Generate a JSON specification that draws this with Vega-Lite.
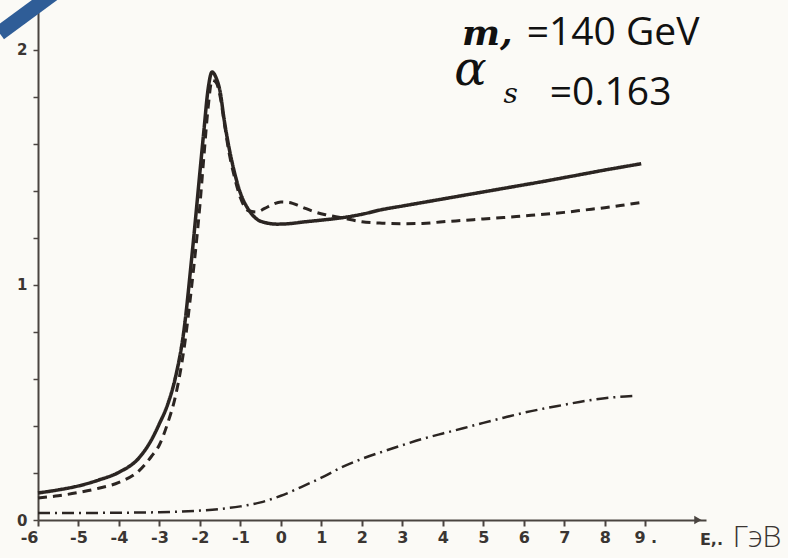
{
  "$schema": "https://vega.github.io/schema/vega-lite/v6.json",
  "autosize": "none",
  "width": 668,
  "height": 508,
  "padding": {"left": 38, "top": 12, "right": 82, "bottom": 38},
  "background": "#fbfaf6",
  "config": {"view": {"stroke": null}},
  "datasets": {
    "curves": [
      {"E": -6.0, "v": 0.115, "series": "solid"},
      {"E": -5.5, "v": 0.128, "series": "solid"},
      {"E": -5.0, "v": 0.145, "series": "solid"},
      {"E": -4.5, "v": 0.17, "series": "solid"},
      {"E": -4.0, "v": 0.203, "series": "solid"},
      {"E": -3.5, "v": 0.265, "series": "solid"},
      {"E": -3.2, "v": 0.34, "series": "solid"},
      {"E": -3.0, "v": 0.41, "series": "solid"},
      {"E": -2.8, "v": 0.49, "series": "solid"},
      {"E": -2.6, "v": 0.61, "series": "solid"},
      {"E": -2.4, "v": 0.8, "series": "solid"},
      {"E": -2.2, "v": 1.12, "series": "solid"},
      {"E": -2.0, "v": 1.48, "series": "solid"},
      {"E": -1.9, "v": 1.66, "series": "solid"},
      {"E": -1.8, "v": 1.83, "series": "solid"},
      {"E": -1.7, "v": 1.905, "series": "solid"},
      {"E": -1.6, "v": 1.88, "series": "solid"},
      {"E": -1.5, "v": 1.82, "series": "solid"},
      {"E": -1.4, "v": 1.7, "series": "solid"},
      {"E": -1.3, "v": 1.6, "series": "solid"},
      {"E": -1.15, "v": 1.48, "series": "solid"},
      {"E": -1.0, "v": 1.39, "series": "solid"},
      {"E": -0.8, "v": 1.32, "series": "solid"},
      {"E": -0.6, "v": 1.28, "series": "solid"},
      {"E": -0.4, "v": 1.265, "series": "solid"},
      {"E": -0.1, "v": 1.258, "series": "solid"},
      {"E": 0.2, "v": 1.26, "series": "solid"},
      {"E": 0.6, "v": 1.268, "series": "solid"},
      {"E": 1.0, "v": 1.275, "series": "solid"},
      {"E": 1.5, "v": 1.285, "series": "solid"},
      {"E": 2.0, "v": 1.3, "series": "solid"},
      {"E": 2.5, "v": 1.32, "series": "solid"},
      {"E": 3.0, "v": 1.335, "series": "solid"},
      {"E": 3.5, "v": 1.35, "series": "solid"},
      {"E": 4.0, "v": 1.365, "series": "solid"},
      {"E": 4.5, "v": 1.38, "series": "solid"},
      {"E": 5.0, "v": 1.395, "series": "solid"},
      {"E": 5.5, "v": 1.41, "series": "solid"},
      {"E": 6.0, "v": 1.425, "series": "solid"},
      {"E": 6.5, "v": 1.44, "series": "solid"},
      {"E": 7.0, "v": 1.456, "series": "solid"},
      {"E": 7.5, "v": 1.472, "series": "solid"},
      {"E": 8.0, "v": 1.488, "series": "solid"},
      {"E": 8.5, "v": 1.503, "series": "solid"},
      {"E": 8.9, "v": 1.515, "series": "solid"},
      {"E": -6.0, "v": 0.094, "series": "dashed"},
      {"E": -5.5, "v": 0.103, "series": "dashed"},
      {"E": -5.0, "v": 0.117, "series": "dashed"},
      {"E": -4.5, "v": 0.135, "series": "dashed"},
      {"E": -4.0, "v": 0.16, "series": "dashed"},
      {"E": -3.5, "v": 0.21, "series": "dashed"},
      {"E": -3.2, "v": 0.27, "series": "dashed"},
      {"E": -3.0, "v": 0.32, "series": "dashed"},
      {"E": -2.8, "v": 0.41, "series": "dashed"},
      {"E": -2.6, "v": 0.53, "series": "dashed"},
      {"E": -2.4, "v": 0.72, "series": "dashed"},
      {"E": -2.2, "v": 1.0, "series": "dashed"},
      {"E": -2.0, "v": 1.34, "series": "dashed"},
      {"E": -1.9, "v": 1.55, "series": "dashed"},
      {"E": -1.8, "v": 1.75, "series": "dashed"},
      {"E": -1.7, "v": 1.87, "series": "dashed"},
      {"E": -1.6, "v": 1.86, "series": "dashed"},
      {"E": -1.5, "v": 1.8, "series": "dashed"},
      {"E": -1.4, "v": 1.69, "series": "dashed"},
      {"E": -1.3, "v": 1.58, "series": "dashed"},
      {"E": -1.15, "v": 1.46, "series": "dashed"},
      {"E": -1.0, "v": 1.37, "series": "dashed"},
      {"E": -0.8, "v": 1.315, "series": "dashed"},
      {"E": -0.6, "v": 1.31, "series": "dashed"},
      {"E": -0.4, "v": 1.325, "series": "dashed"},
      {"E": -0.2, "v": 1.342, "series": "dashed"},
      {"E": 0.0, "v": 1.352, "series": "dashed"},
      {"E": 0.2, "v": 1.35, "series": "dashed"},
      {"E": 0.5, "v": 1.332, "series": "dashed"},
      {"E": 0.8, "v": 1.312, "series": "dashed"},
      {"E": 1.1, "v": 1.298, "series": "dashed"},
      {"E": 1.5, "v": 1.285, "series": "dashed"},
      {"E": 2.0, "v": 1.268, "series": "dashed"},
      {"E": 2.5, "v": 1.262, "series": "dashed"},
      {"E": 3.0, "v": 1.26, "series": "dashed"},
      {"E": 3.5, "v": 1.261, "series": "dashed"},
      {"E": 4.0, "v": 1.268, "series": "dashed"},
      {"E": 4.5, "v": 1.274, "series": "dashed"},
      {"E": 5.0, "v": 1.28, "series": "dashed"},
      {"E": 5.5, "v": 1.286, "series": "dashed"},
      {"E": 6.0, "v": 1.293, "series": "dashed"},
      {"E": 6.5, "v": 1.3, "series": "dashed"},
      {"E": 7.0, "v": 1.308, "series": "dashed"},
      {"E": 7.5, "v": 1.318, "series": "dashed"},
      {"E": 8.0, "v": 1.328, "series": "dashed"},
      {"E": 8.5, "v": 1.34, "series": "dashed"},
      {"E": 8.9, "v": 1.35, "series": "dashed"},
      {"E": -6.0, "v": 0.03, "series": "dashdot"},
      {"E": -5.0, "v": 0.03, "series": "dashdot"},
      {"E": -4.0, "v": 0.031, "series": "dashdot"},
      {"E": -3.0, "v": 0.033, "series": "dashdot"},
      {"E": -2.0, "v": 0.04, "series": "dashdot"},
      {"E": -1.5, "v": 0.047, "series": "dashdot"},
      {"E": -1.0, "v": 0.058, "series": "dashdot"},
      {"E": -0.5, "v": 0.075, "series": "dashdot"},
      {"E": 0.0, "v": 0.103, "series": "dashdot"},
      {"E": 0.5, "v": 0.14, "series": "dashdot"},
      {"E": 1.0, "v": 0.18, "series": "dashdot"},
      {"E": 1.5, "v": 0.224, "series": "dashdot"},
      {"E": 2.0, "v": 0.26, "series": "dashdot"},
      {"E": 2.5, "v": 0.29, "series": "dashdot"},
      {"E": 3.0, "v": 0.318, "series": "dashdot"},
      {"E": 3.5, "v": 0.345, "series": "dashdot"},
      {"E": 4.0, "v": 0.368, "series": "dashdot"},
      {"E": 4.5, "v": 0.39, "series": "dashdot"},
      {"E": 5.0, "v": 0.413, "series": "dashdot"},
      {"E": 5.5, "v": 0.435, "series": "dashdot"},
      {"E": 6.0, "v": 0.456, "series": "dashdot"},
      {"E": 6.5, "v": 0.474, "series": "dashdot"},
      {"E": 7.0, "v": 0.49, "series": "dashdot"},
      {"E": 7.5, "v": 0.506, "series": "dashdot"},
      {"E": 8.0, "v": 0.518, "series": "dashdot"},
      {"E": 8.5, "v": 0.525, "series": "dashdot"},
      {"E": 8.8, "v": 0.528, "series": "dashdot"}
    ],
    "labels": [
      {"E": 4.47, "v": 2.02, "text": "m,", "kind": "m"},
      {"E": 6.07, "v": 2.02, "text": "=140 GeV", "kind": "sans"},
      {"E": 4.28, "v": 1.85, "text": "α", "kind": "alpha"},
      {"E": 5.5, "v": 1.775, "text": "s", "kind": "sub"},
      {"E": 6.64, "v": 1.765, "text": "=0.163", "kind": "sans"}
    ],
    "unitE": [{"E": 10.35, "v": -0.105, "text": "E,."}],
    "unitG": [{"E": 11.16, "v": -0.115, "text": "ГэВ"}],
    "arrow": [{"E": 10.3, "v": 0}],
    "stripe": [
      {"E": -6.95, "v": 2.07, "id": 1},
      {"E": -5.45, "v": 2.26, "id": 2}
    ]
  },
  "layer": [
    {
      "data": {"name": "curves"},
      "mark": {"type": "line", "interpolate": "monotone", "color": "#2b2522", "clip": false},
      "encoding": {
        "x": {
          "field": "E", "type": "quantitative",
          "scale": {"domain": [-6, 10.5], "nice": false, "zero": false},
          "axis": {
            "values": [-6, -5, -4, -3, -2, -1, 0, 1, 2, 3, 4, 5, 6, 7, 8, 9],
            "labelExpr": "datum.value < 0 ? '-' + (-datum.value) : datum.value == 9 ? '9 .' : '' + datum.value",
            "title": null, "grid": false,
            "domainColor": "#4a4440", "domainWidth": 2,
            "tickColor": "#4a4440", "tickWidth": 2, "tickSize": 6,
            "labelFont": "DejaVu Sans", "labelFontWeight": "bold", "labelFontSize": 16,
            "labelColor": "#3a3532", "labelPadding": 3,
            "labelAlign": {"condition": {"test": "datum.value == -6", "value": "right"}, "value": "center"}
          }
        },
        "y": {
          "field": "v", "type": "quantitative",
          "scale": {"domain": [0, 2.16], "nice": false},
          "axis": {
            "values": [0, 0.2, 0.4, 0.6, 0.8, 1, 1.2, 1.4, 1.6, 1.8, 2],
            "labelExpr": "datum.value == 0 ? '0' : datum.value == 1 ? '1' : datum.value == 2 ? '2' : ''",
            "title": null, "grid": false,
            "domainColor": "#4a4440", "domainWidth": 2,
            "tickColor": "#4a4440", "tickWidth": 1.5, "tickSize": 5,
            "labelFont": "DejaVu Sans", "labelFontWeight": "bold", "labelFontSize": 15,
            "labelColor": "#3a3532", "labelPadding": 6
          }
        },
        "detail": {"field": "series"},
        "strokeDash": {
          "field": "series", "type": "nominal",
          "scale": {"domain": ["solid", "dashed", "dashdot"], "range": [[1, 0], [9, 6], [12, 5, 2, 5]]},
          "legend": null
        },
        "strokeWidth": {
          "field": "series", "type": "nominal",
          "scale": {"domain": ["solid", "dashed", "dashdot"], "range": [3.5, 2.5, 2.5]},
          "legend": null
        }
      }
    },
    {
      "data": {"name": "arrow"},
      "mark": {"type": "point", "shape": "triangle-right", "filled": true, "color": "#4a4440", "size": 70, "opacity": 1, "clip": false},
      "encoding": {
        "x": {"field": "E", "type": "quantitative"},
        "y": {"field": "v", "type": "quantitative"}
      }
    },
    {
      "data": {"name": "stripe"},
      "mark": {"type": "line", "color": "#2f5d97", "strokeWidth": 15, "clip": false, "strokeCap": "butt"},
      "encoding": {
        "x": {"field": "E", "type": "quantitative"},
        "y": {"field": "v", "type": "quantitative"},
        "order": {"field": "id"}
      }
    },
    {
      "data": {"name": "labels"},
      "transform": [{"filter": "datum.kind == 'sans'"}],
      "mark": {"type": "text", "align": "left", "baseline": "alphabetic", "font": "Open Sans", "fontSize": 39, "color": "#111111"},
      "encoding": {
        "x": {"field": "E", "type": "quantitative"},
        "y": {"field": "v", "type": "quantitative"},
        "text": {"field": "text"}
      }
    },
    {
      "data": {"name": "labels"},
      "transform": [{"filter": "datum.kind == 'm'"}],
      "mark": {"type": "text", "align": "left", "baseline": "alphabetic", "font": "DejaVu Serif", "fontStyle": "italic", "fontWeight": "bold", "fontSize": 36, "color": "#111111"},
      "encoding": {
        "x": {"field": "E", "type": "quantitative"},
        "y": {"field": "v", "type": "quantitative"},
        "text": {"field": "text"}
      }
    },
    {
      "data": {"name": "labels"},
      "transform": [{"filter": "datum.kind == 'alpha'"}],
      "mark": {"type": "text", "align": "left", "baseline": "alphabetic", "font": "DejaVu Serif", "fontStyle": "italic", "fontSize": 48, "color": "#111111"},
      "encoding": {
        "x": {"field": "E", "type": "quantitative"},
        "y": {"field": "v", "type": "quantitative"},
        "text": {"field": "text"}
      }
    },
    {
      "data": {"name": "labels"},
      "transform": [{"filter": "datum.kind == 'sub'"}],
      "mark": {"type": "text", "align": "left", "baseline": "alphabetic", "font": "DejaVu Serif", "fontStyle": "italic", "fontSize": 28, "color": "#111111"},
      "encoding": {
        "x": {"field": "E", "type": "quantitative"},
        "y": {"field": "v", "type": "quantitative"},
        "text": {"field": "text"}
      }
    },
    {
      "data": {"name": "unitE"},
      "mark": {"type": "text", "align": "left", "baseline": "alphabetic", "font": "DejaVu Sans", "fontWeight": "bold", "fontSize": 16, "color": "#3a3532", "clip": false},
      "encoding": {
        "x": {"field": "E", "type": "quantitative"},
        "y": {"field": "v", "type": "quantitative"},
        "text": {"field": "text"}
      }
    },
    {
      "data": {"name": "unitG"},
      "mark": {"type": "text", "align": "left", "baseline": "alphabetic", "font": "Open Sans", "fontWeight": 300, "fontSize": 30, "color": "#3a3532", "clip": false},
      "encoding": {
        "x": {"field": "E", "type": "quantitative"},
        "y": {"field": "v", "type": "quantitative"},
        "text": {"field": "text"}
      }
    }
  ]
}
